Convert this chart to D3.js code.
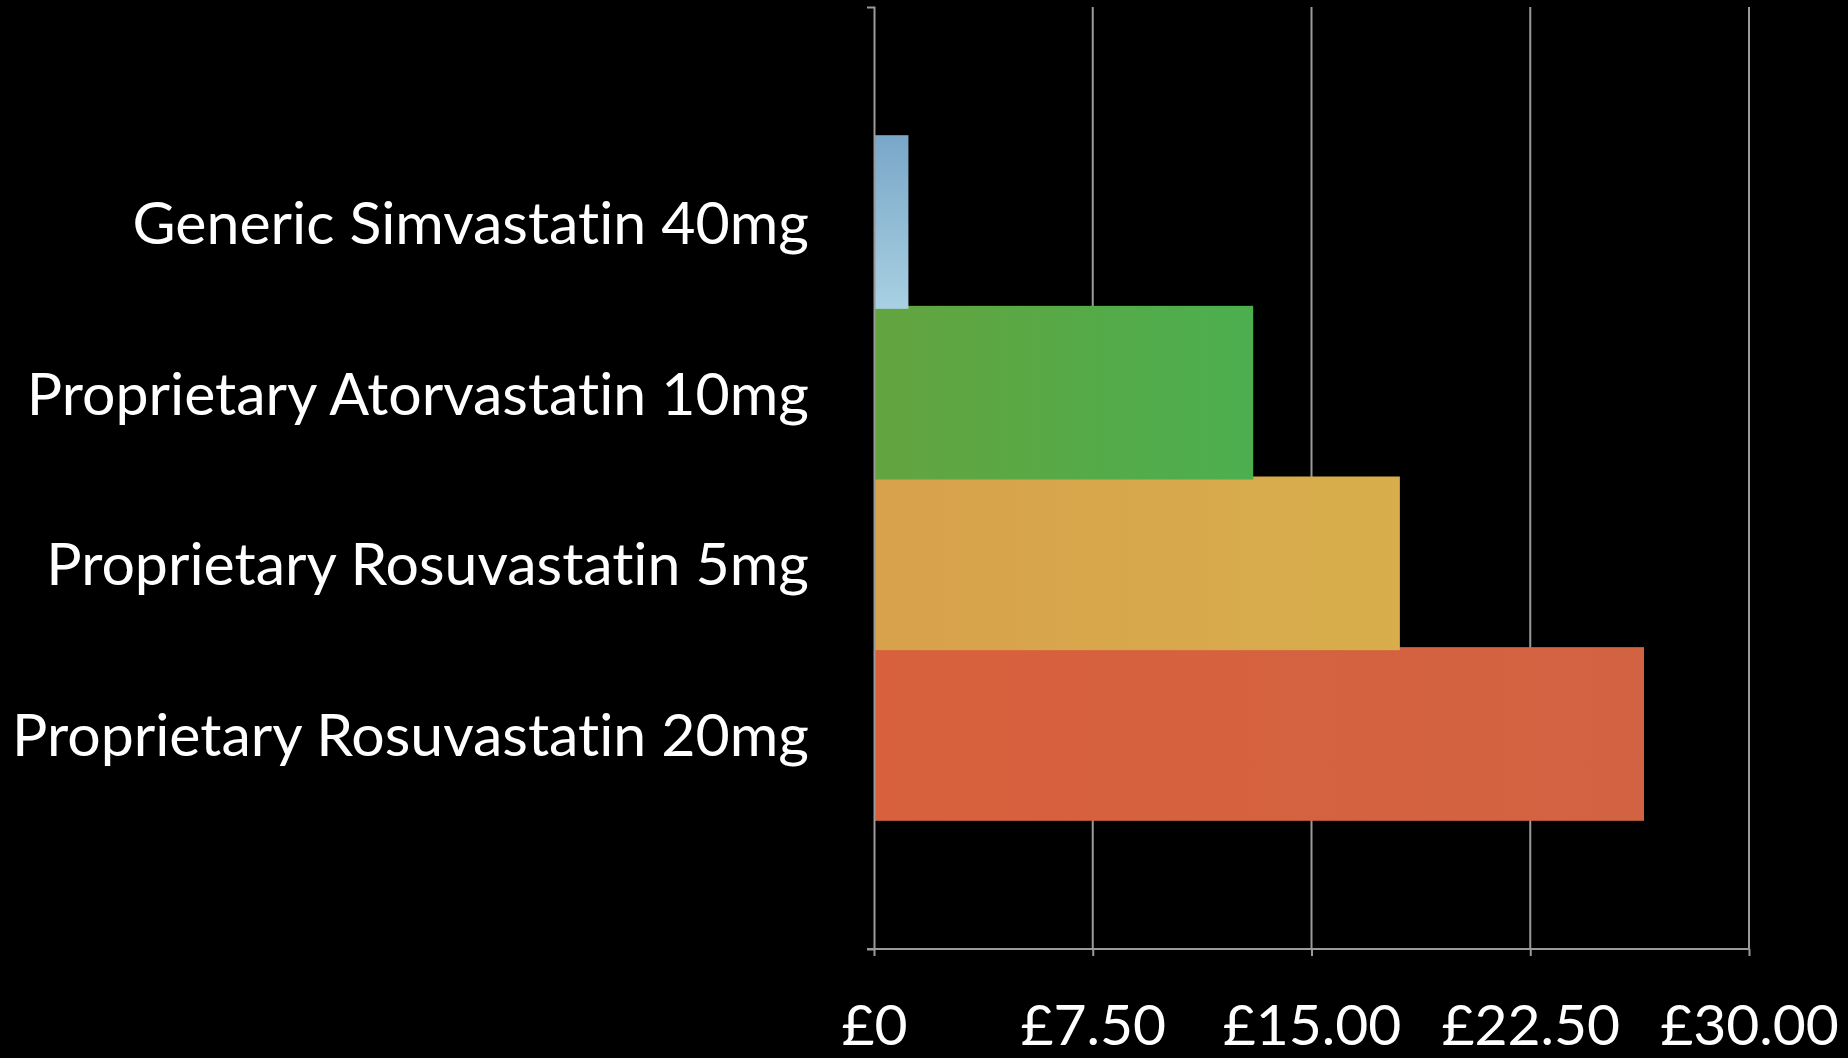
<!DOCTYPE html>
<html>
<head>
<meta charset="utf-8">
<script src="https://d3js.org/d3.v7.min.js"></script>
<style>
  body { margin: 0; background: #000; }
  svg { display: block; }
  .label { font-family: Lato, "Open Sans", sans-serif; fill: #fff; font-variant-ligatures: none; }
</style>
</head>
<body>
<script>
// Kosten per maand van statines
var categories = [
  "Generic Simvastatin 40mg",
  "Proprietary Atorvastatin 10mg",
  "Proprietary Rosuvastatin 5mg",
  "Proprietary Rosuvastatin 20mg"
]
var costs = [1.18, 13.0, 18.03, 26.4]
var tickValues = [0, 7.5, 15, 22.5, 30]
var tickLabels = ["£0", "£7.50", "£15.00", "£22.50", "£30.00"]
var barColors = [
  ["#79a7c8", "#a9d0e2"],
  ["#63a43f", "#4caf4f"],
  ["#d8a14b", "#d7ae4b"],
  ["#d8603d", "#d26342"]
]

var width = 1848
var height = 1058
var margin = {top: 7, right: 99, bottom: 109, left: 874}

var svg = d3.select("body").append("svg")
    .attr("width", width)
    .attr("height", height)
    .style("background", "#000")

var defs = svg.append("defs")
barColors.forEach(function(c, i) {
  var grad = defs.append("linearGradient")
    .attr("id", "grad" + i)
    .attr("x1", 0).attr("y1", 0)
    .attr("x2", i == 0 ? 0 : 1).attr("y2", i == 0 ? 1 : 0)
  grad.append("stop").attr("offset", "0%").attr("stop-color", c[0])
  grad.append("stop").attr("offset", "100%").attr("stop-color", c[1])
})

var g = svg.append("g")
    .attr("transform", `translate(${margin.left},${margin.top})`)

var innerW = width - margin.left - margin.right
var innerH = height - margin.top - margin.bottom

var xScale = d3.scaleLinear().domain([0, 30]).range([0, innerW])
var yScale = d3.scaleBand().domain(categories).range([0, innerH])
    .paddingInner(0).paddingOuter(0.76)

// rasterlijnen
g.selectAll(".grid")
  .data(tickValues.slice(1))
  .enter().append("line")
  .attr("class", "grid")
  .attr("x1", d => xScale(d)).attr("x2", d => xScale(d))
  .attr("y1", 0).attr("y2", innerH)
  .style("stroke", "#9a9a9a")
  .style("stroke-width", 2)

// bars, van onder naar boven getekend zodat ze overlappen zoals in het origineel
var data = categories.map((c, i) => ({name: c, cost: costs[i], i: i})).reverse()

g.selectAll(".bar")
  .data(data)
  .enter().append("rect")
  .attr("class", "bar")
  .attr("x", 0)
  .attr("y", d => yScale(d.name) - 1.5)
  .attr("width", d => xScale(d.cost))
  .attr("height", yScale.bandwidth() + 3)
  .style("fill", d => `url(#grad${d.i})`)

// x as
var xAxis = d3.axisBottom(xScale).tickValues(tickValues)
    .tickSize(7).tickSizeOuter(0).tickFormat((d, i) => tickLabels[i])

var xg = g.append("g")
   .attr("transform", `translate(0,${innerH})`)
   .call(xAxis)
xg.select(".domain").attr("d", `M-7,0H${innerW}`)
xg.selectAll("line, path").style("stroke", "#9a9a9a").style("stroke-width", 2)
xg.selectAll("text")
  .attr("class", "label")
  .attr("y", 96)
  .attr("dy", 0)
  .style("font-size", "57px")

// y as
var yAxis = d3.axisLeft(yScale).tickSize(0).tickSizeOuter(7).tickPadding(65)
var yg = g.append("g").call(yAxis)
yg.select(".domain").style("stroke", "#9a9a9a").style("stroke-width", 2)
yg.selectAll("text")
  .attr("class", "label")
  .attr("dy", "0.37em")
  .style("font-size", "59px")
</script>
</body>
</html>
